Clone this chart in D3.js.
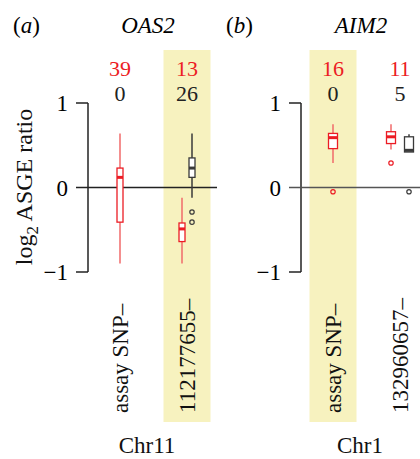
<!DOCTYPE html>
<html>
<head>
<meta charset="utf-8">
<script src="https://cdn.jsdelivr.net/npm/d3@7/dist/d3.min.js"></script>
<style>
  body { margin: 0; background: #fff; }
  text { font-family: "Liberation Serif", "DejaVu Serif", serif; }
</style>
</head>
<body>
<div class="boxchart"></div>
<script>
// panels
const panelTags = ['a', 'b'];
const genes = ['OAS2', 'AIM2'];
const chromosomes = ['Chr11', 'Chr1'];
const categories = [['assay SNP–', '112177655–'], ['assay SNP–', '132960657–']];
const highlighted = [1, 0];

// sample counts per category
const redCounts = [[39, 13], [16, 11]];
const blackCounts = [[0, 26], [0, 5]];

// box stats: [whisker low, q1, median, q3, whisker high]
const redBoxes = [
  [[-0.90, -0.41, 0.12, 0.23, 0.64], [-0.90, -0.64, -0.49, -0.42, -0.12]],
  [[0.29, 0.46, 0.59, 0.64, 0.75], [0.45, 0.52, 0.60, 0.66, 0.75]]
];
const blackBoxes = [
  [null, [-0.12, 0.12, 0.23, 0.35, 0.64]],
  [null, [0.42, 0.42, 0.44, 0.60, 0.63]]
];
const redOutliers = [[[], []], [[-0.05], [0.29]]];
const blackOutliers = [[[], [-0.29, -0.41]], [[], [-0.05]]];

const yTicks = [-1, 0, 1];

const width = 420, height = 459;
const axisX = [88, 301];
const zeroEnd = [217, 420];
const pairOffset = [5, 9];
const boxW = [6, 9];

const RED = '#ec1c24', RED_W = '#f06a6a', DARK = '#3a3a3a', BAND = '#f7f2bf';

const svg = d3.select('.boxchart').append('svg')
  .attr('width', width).attr('height', height);

const y = d3.scaleLinear().domain([-1, 1]).range([272, 103]);

function drawBox(g, cx, st, w, stroke, whisker) {
  if (!st) return;
  g.append('line')
    .attr('x1', cx).attr('x2', cx)
    .attr('y1', y(st[0])).attr('y2', y(st[4]))
    .attr('stroke', whisker).attr('stroke-width', 1.5);
  g.append('rect')
    .attr('x', cx - w / 2).attr('width', w)
    .attr('y', y(st[3])).attr('height', Math.max(y(st[1]) - y(st[3]), 1))
    .attr('fill', '#fff').attr('stroke', stroke).attr('stroke-width', 1.3);
  g.append('line')
    .attr('x1', cx - w / 2).attr('x2', cx + w / 2)
    .attr('y1', y(st[2])).attr('y2', y(st[2]))
    .attr('stroke', stroke).attr('stroke-width', 3);
}

function drawOutliers(g, cx, vals, stroke) {
  g.selectAll(null)
    .data(vals)
    .enter().append('circle')
    .attr('cx', cx).attr('cy', function(d) { return y(d); })
    .attr('r', 2.2)
    .attr('fill', 'none').attr('stroke', stroke).attr('stroke-width', 1.2);
}

panelTags.forEach(function(tag, p) {
  const ax = axisX[p];
  const g = svg.append('g');
  const x = d3.scalePoint().domain([0, 1]).range([ax + 32, ax + 99]);

  // highlight band
  const hx = x(highlighted[p]);
  g.append('rect')
    .attr('x', hx - 23.5).attr('width', 47)
    .attr('y', 50).attr('height', 372)
    .attr('fill', BAND);

  // title
  const title = g.append('text').attr('x', ax - 75).attr('y', 33).attr('font-size', 23);
  title.append('tspan').text('(');
  title.append('tspan').attr('font-style', 'italic').text(tag);
  title.append('tspan').text(')');
  g.append('text')
    .attr('x', ax + 60).attr('y', 33)
    .attr('text-anchor', 'middle').attr('font-size', 23).attr('font-style', 'italic')
    .text(genes[p]);

  // y axis (bracket)
  g.append('line')
    .attr('x1', ax).attr('x2', ax).attr('y1', y(1)).attr('y2', y(-1))
    .attr('stroke', '#222').attr('stroke-width', 1.5);
  g.selectAll('.tick')
    .data(yTicks)
    .enter().append('line')
    .attr('x1', ax - 12)
    .attr('x2', function(d) { return d === 0 ? zeroEnd[p] : ax; })
    .attr('y1', function(d) { return y(d); })
    .attr('y2', function(d) { return y(d); })
    .attr('stroke', function(d) { return d === 0 && p === 1 ? '#555' : '#222'; })
    .attr('stroke-width', 1.5);
  g.selectAll('.ticklabel')
    .data(yTicks)
    .enter().append('text')
    .attr('x', ax - 20)
    .attr('y', function(d) { return y(d); })
    .attr('dy', '0.35em')
    .attr('text-anchor', 'end').attr('font-size', 23)
    .text(function(d) { return d < 0 ? '−' + Math.abs(d) : d; });

  // counts
  categories[p].forEach(function(c, i) {
    g.append('text')
      .attr('x', x(i)).attr('y', 76)
      .attr('text-anchor', 'middle').attr('font-size', 22).attr('fill', RED)
      .text(redCounts[p][i]);
    g.append('text')
      .attr('x', x(i)).attr('y', 101)
      .attr('text-anchor', 'middle').attr('font-size', 22).attr('fill', '#222')
      .text(blackCounts[p][i]);

    const both = redBoxes[p][i] && blackBoxes[p][i];
    const rx = both ? x(i) - pairOffset[p] : x(i);
    const bx = both ? x(i) + pairOffset[p] : x(i);
    drawBox(g, rx, redBoxes[p][i], boxW[p], RED, RED_W);
    drawBox(g, bx, blackBoxes[p][i], boxW[p], DARK, DARK);
    drawOutliers(g, rx, redOutliers[p][i], RED);
    drawOutliers(g, bx, blackOutliers[p][i], DARK);

    // category label
    g.append('text')
      .attr('transform', 'translate(' + x(i) + ',413) rotate(-90)')
      .attr('dy', '0.35em')
      .attr('font-size', 23).attr('fill', '#111')
      .text(c);
  });

  g.append('text')
    .attr('x', ax + 59).attr('y', 453)
    .attr('text-anchor', 'middle').attr('font-size', 23).attr('fill', '#111')
    .text(chromosomes[p]);
});

// y axis label
const yl = svg.append('text')
  .attr('transform', 'translate(32,187) rotate(-90)')
  .attr('text-anchor', 'middle').attr('font-size', 24).attr('fill', '#111');
yl.append('tspan').text('log');
yl.append('tspan').attr('font-size', 17).attr('dy', 6).text('2');
yl.append('tspan').attr('dy', -6).text(' ASGE ratio');
</script>
</body>
</html>
